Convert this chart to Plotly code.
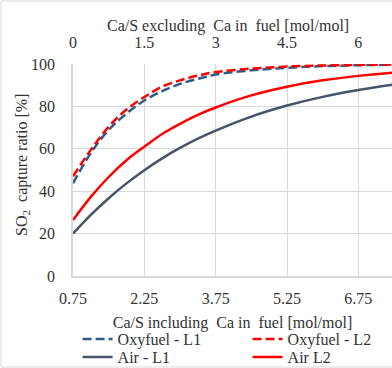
import plotly.graph_objects as go

# Ca/S including Ca in fuel [mol/mol]
ca_s_incl = [0.75, 1.125, 1.5, 1.875, 2.25, 2.625, 3.0, 3.375, 3.75, 4.5, 5.25, 6.0, 6.75, 7.5]

oxy_l1 = [43.7, 58.0, 68.9, 76.6, 82.8, 87.2, 90.6, 93.0, 95.0, 97.0, 98.2, 99.0, 99.4, 99.7]
oxy_l2 = [47.0, 59.5, 70.4, 78.5, 84.4, 89.3, 92.3, 94.5, 96.2, 97.8, 98.8, 99.3, 99.6, 99.8]
air_l1 = [20.0, 28.8, 36.7, 43.7, 49.9, 55.5, 60.4, 64.8, 68.6, 75.2, 80.4, 84.5, 87.7, 90.3]
air_l2 = [26.4, 37.3, 46.7, 54.6, 61.0, 67.0, 71.8, 76.0, 79.5, 85.2, 89.3, 92.3, 94.4, 96.0]

bottom_ticks = [0.75, 2.25, 3.75, 5.25, 6.75]
bottom_labels = ["0.75", "2.25", "3.75", "5.25", "6.75"]
top_ticks = [0, 1.5, 3, 4.5, 6]
top_labels = ["0", "1.5", "3", "4.5", "6"]
y_ticks = [0, 20, 40, 60, 80, 100]

FONT = "Liberation Serif, Times New Roman, serif"
TXT = "#333333"
GRID = "#d9d9d9"
FS = 16

L, T, B = 73, 64, 92
W, H = 392, 368
PW, PH = W - L, H - T - B

fig = go.Figure()
# name, values, colour, dash, legend id, legend left (px), legend top (px)
series = [
    ("Oxyfuel - L1", oxy_l1, "#2b5c8a", "9px,4px", "legend", 77.6, 322),
    ("Oxyfuel - L2", oxy_l2, "#ff0000", "9px,4px", "legend2", 247.6, 322),
    ("Air - L1", air_l1, "#44546a", "solid", "legend3", 77.6, 340),
    ("Air L2", air_l2, "#ff0000", "solid", "legend4", 247.6, 340),
]
legends = {}
for name, ys, col, dash, lg, lx, ly in series:
    fig.add_trace(go.Scatter(x=ca_s_incl, y=ys, name=name, mode="lines", legend=lg,
                             line=dict(color=col, width=2.5, dash=dash, shape="spline"),
                             hoverinfo="skip"))
    legends[lg] = dict(orientation="v", yanchor="top", xanchor="left",
                       x=(lx - L) / PW, y=(H - B - ly) / PH,
                       font=dict(family=FONT, size=FS, color=TXT),
                       bgcolor="rgba(0,0,0,0)", tracegroupgap=0)

# invisible trace to anchor the top axis
fig.add_trace(go.Scatter(x=top_ticks, y=[None] * len(top_ticks), xaxis="x2",
                         showlegend=False, hoverinfo="skip", mode="lines"))

x0, x1 = 0.75, 7.458
fig.update_layout(
    width=W, height=H,
    margin=dict(l=L, r=0, t=T, b=B, autoexpand=False),
    paper_bgcolor="white", plot_bgcolor="white",
    font=dict(family=FONT, size=FS, color=TXT),
    xaxis=dict(range=[x0, x1], tickvals=bottom_ticks, ticktext=bottom_labels,
               showgrid=True, gridcolor=GRID, gridwidth=1,
               showline=True, linecolor=GRID, linewidth=1.5, zeroline=False,
               ticks="", ticklabelstandoff=7,
               title=dict(text="Ca/S including  Ca in  fuel [mol/mol]", standoff=11,
                          font=dict(family=FONT, size=FS, color=TXT))),
    xaxis2=dict(range=[x0 - 0.75, x1 - 0.75], overlaying="x", side="top",
                tickvals=top_ticks, ticktext=top_labels, showgrid=False,
                showline=False, zeroline=False, ticks="", ticklabelstandoff=12),
    yaxis=dict(range=[0, 100], tickvals=y_ticks, showgrid=True, gridcolor=GRID,
               showline=True, linecolor=GRID, linewidth=1.5, zeroline=False,
               ticks="", ticklabelstandoff=13),
    annotations=[
        dict(text="Ca/S excluding  Ca in  fuel [mol/mol]", xref="paper", yref="paper",
             x=(228 - L) / PW, y=1 + (T - 26) / PH, xanchor="center", yanchor="middle",
             showarrow=False, font=dict(family=FONT, size=FS, color=TXT)),
        dict(text="SO<sub>2</sub>  capture ratio [%]", xref="paper", yref="paper",
             x=(22 - L) / PW, y=(H - B - 165) / PH, xanchor="center", yanchor="middle",
             textangle=-90, showarrow=False, font=dict(family=FONT, size=FS, color=TXT)),
    ],
    shapes=[dict(type="rect", xref="paper", yref="paper",
                 x0=(1 - L) / PW, x1=1.2, y0=(H - B - 367) / PH, y1=(H - B - 1) / PH,
                 line=dict(color="#d9d9d9", width=1), fillcolor="rgba(0,0,0,0)", layer="below")],
    **legends,
)

fig.write_html("out.html", config={"displayModeBar": False},
               post_script="document.body.style.margin='0';")
